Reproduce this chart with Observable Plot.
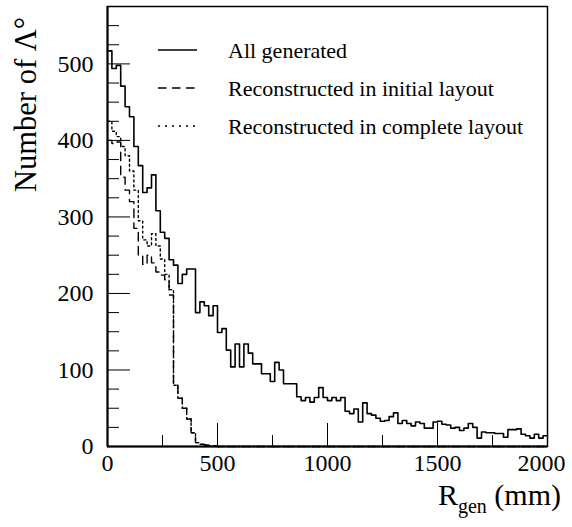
<!DOCTYPE html>
<html><head><meta charset="utf-8">
<script src="https://cdn.jsdelivr.net/npm/d3@7"></script>
<script src="https://cdn.jsdelivr.net/npm/@observablehq/plot@0.6"></script>
<style>body{margin:0;background:#fff}#chart{width:572px;height:527px}</style>
</head><body><div id="chart"></div>
<script>
// Histogram bin width (mm) and data (counts per 20 mm bin, R_gen 0..2000 mm)
const binWidth = 20;
const allGenerated = [
  517, 494, 498, 471, 444, 431, 392, 367, 332, 338,
  355, 308, 280, 272, 244, 237, 213, 225, 232, 232,
  175, 189, 184, 171, 184, 149, 154, 126, 104, 134,
  104, 134, 122, 108, 108, 95, 95, 85, 110, 100,
  82, 82, 82, 65, 60, 64, 58, 64, 77, 64,
  60, 64, 60, 64, 46, 43, 49, 32, 57, 43,
  41, 37, 33, 34, 39, 44, 30, 34, 30, 27,
  32, 30, 24, 24, 32, 33, 29, 28, 24, 25,
  21, 24, 30, 25, 11, 19, 18, 18, 17, 17,
  12, 22, 22, 23, 16, 14, 11, 16, 11, 14
];
const initialLayout = [
  400, 396, 398, 352, 335, 320, 285, 250, 238, 250,
  240, 228, 224, 218, 198, 80, 63, 50, 36, 18,
  5, 3, 2, 1, 1, 0, 0, 0, 0, 0,
  0, 0, 0, 0, 0, 0, 0, 0, 0, 0,
  0, 0, 0, 0, 0, 0, 0, 0, 0, 0,
  0, 0, 0, 0, 0, 0, 0, 0, 0, 0,
  0, 0, 0, 0, 0, 0, 0, 0, 0, 0,
  0, 0, 0, 0, 0, 0, 0, 0, 0, 0,
  0, 0, 0, 0, 0, 0, 0, 0, 0, 0,
  0, 0, 0, 0, 0, 0, 0, 0, 0, 0
];
const completeLayout = [
  425, 412, 405, 392, 380, 360, 335, 295, 270, 262,
  278, 262, 245, 225, 205, 80, 63, 50, 36, 18,
  5, 3, 2, 1, 1, 0, 0, 0, 0, 0,
  0, 0, 0, 0, 0, 0, 0, 0, 0, 0,
  0, 0, 0, 0, 0, 0, 0, 0, 0, 0,
  0, 0, 0, 0, 0, 0, 0, 0, 0, 0,
  0, 0, 0, 0, 0, 0, 0, 0, 0, 0,
  0, 0, 0, 0, 0, 0, 0, 0, 0, 0,
  0, 0, 0, 0, 0, 0, 0, 0, 0, 0,
  0, 0, 0, 0, 0, 0, 0, 0, 0, 0
];
const seriesNames = ["All generated", "Reconstructed in initial layout", "Reconstructed in complete layout"];
const xTickLabels = [0, 500, 1000, 1500];
const xLastTickLabel = [2000];
const xMajorTicks = [0, 500, 1000, 1500, 2000];
const xMinorTicks = [250, 750, 1250, 1750];
const yTickLabels = [0, 100, 200, 300, 400, 500];
const yMinorTicks = [25, 50, 75, 125, 150, 175, 225, 250, 275, 325, 350, 375, 425, 450, 475, 525, 550];

function toSteps(values) {
  const rows = values.map((v, i) => ({x: i * binWidth, y: v}));
  rows.push({x: values.length * binWidth, y: values[values.length - 1]});
  return rows;
}

const FONT = "'Liberation Serif', 'Times New Roman', serif";
const dashed = "8.5,5.5";
const dotted = "2,3";

const svg = Plot.plot({
  width: 572, height: 527,
  marginLeft: 107, marginRight: 25, marginTop: 6, marginBottom: 81,
  x: {domain: [0, 2000]},
  y: {domain: [0, 575]},
  style: {fontFamily: FONT, background: "white", color: "black"},
  marks: [
    Plot.line(toSteps(completeLayout), {x: "x", y: "y", curve: "step-after", stroke: "black", strokeWidth: 1.4, strokeDasharray: dotted}),
    Plot.line(toSteps(initialLayout), {x: "x", y: "y", curve: "step-after", stroke: "black", strokeWidth: 1.4, strokeDasharray: dashed}),
    Plot.line(toSteps(allGenerated), {x: "x", y: "y", curve: "step-after", stroke: "black", strokeWidth: 1.6}),
    Plot.axisX(xMajorTicks, {tickSize: -23, fill: "none", label: null, strokeWidth: 1}),
    Plot.axisX(xMinorTicks, {tickSize: -11, fill: "none", label: null, strokeWidth: 1}),
    Plot.axisY(yTickLabels, {tickSize: -23, fill: "none", label: null, strokeWidth: 1}),
    Plot.axisY(yMinorTicks, {tickSize: -12, fill: "none", label: null, strokeWidth: 1}),
    Plot.axisX(xTickLabels, {tickSize: 0, tickPadding: 7, fontSize: 24, label: null, tickFormat: d => String(d)}),
    Plot.axisX(xLastTickLabel, {tickSize: 0, tickPadding: 7, fontSize: 24, label: null, dx: -6, tickFormat: d => String(d)}),
    Plot.axisY(yTickLabels, {tickSize: 0, tickPadding: 14, fontSize: 24, label: null, tickFormat: d => String(d)}),
    Plot.frame({stroke: "black", strokeWidth: 1.5}),
    Plot.ruleX([0], {stroke: "black", strokeWidth: 2}),
    Plot.ruleY([0], {stroke: "black", strokeWidth: 2})
  ]
});

const s = d3.select(svg);
const textStyle = `font-family: ${FONT}; fill: black;`;
// Axis titles
const xt = s.append("text").attr("x", 561).attr("y", 505)
  .attr("style", textStyle + " font-size: 30px; text-anchor: end;");
xt.append("tspan").text("R");
xt.append("tspan").attr("style", "font-size: 20px;").attr("dy", 8).text("gen");
xt.append("tspan").attr("dy", -8).text(" (mm)");
s.append("text").attr("transform", "translate(36,17) rotate(-90)")
  .attr("style", textStyle + " font-size: 30.5px; text-anchor: end;").text("Number of Λ°");

// Legend
const styles = [null, dashed, "2,5"];
const ly = [50, 88, 126];
seriesNames.forEach((name, i) => {
  const ln = s.append("line").attr("x1", 158).attr("x2", 197).attr("y1", ly[i]).attr("y2", ly[i])
    .attr("stroke", "black").attr("stroke-width", 1.6);
  if (styles[i]) ln.attr("stroke-dasharray", styles[i]);
  s.append("text").attr("x", 228).attr("y", ly[i] + 7.5)
    .attr("style", textStyle + " font-size: 22px; text-anchor: start;").text(name);
});

document.getElementById("chart").appendChild(svg);
</script>
</body></html>
